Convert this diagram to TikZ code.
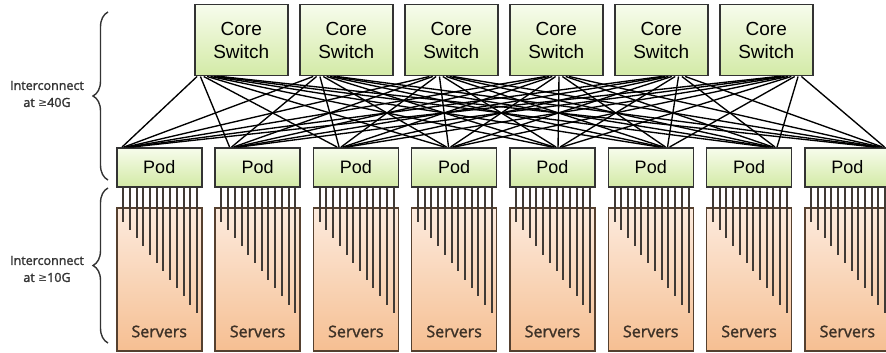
\documentclass[tikz,border=0pt]{standalone}
\usepackage{fontspec}
\setmainfont{Liberation Sans}
\newfontfamily\hum{Open Sans}
\newfontfamily\humsb[FakeBold=1.6]{Open Sans}
\newfontfamily\djv{DejaVu Sans}
\usetikzlibrary{calc,decorations.pathreplacing}
\definecolor{gtop}{HTML}{F7FCEC}
\definecolor{gbot}{HTML}{D3EAA6}
\definecolor{otop}{HTML}{FCEBDE}
\definecolor{obot}{HTML}{F6BF92}
\definecolor{edge}{HTML}{333333}
\definecolor{sedge}{HTML}{55402F}
\definecolor{wire}{HTML}{403A35}
\definecolor{stext}{HTML}{3E3227}
\begin{document}
\begin{tikzpicture}[x=1pt,y=-1pt,
 corebox/.style={draw=edge, line width=1.5pt, top color=gtop, bottom color=gbot,
   minimum width=93pt, minimum height=71pt, anchor=north west, inner sep=0pt,
   align=center, font=\fontsize{19}{23}\selectfont},
 podbox/.style={draw=edge, line width=1.5pt, top color=gtop, bottom color=gbot,
   minimum width=85pt, minimum height=39pt, anchor=north west, inner sep=0pt,
   font=\fontsize{18}{20}\selectfont},
 srvbox/.style={draw=sedge, line width=1.5pt, top color=otop, bottom color=obot,
   minimum width=85pt, minimum height=143pt, anchor=north west, inner sep=0pt},
 srvlabel/.style={font=\humsb\fontsize{16}{18}\selectfont, text=stext},
 link/.style={line width=1.35pt, black},
 drop/.style={line width=2pt, wire},
 bracket/.style={decorate, decoration={brace, amplitude=15pt}, line width=1.4pt, edge},
 note/.style={font=\humsb\fontsize{12.5}{17}\selectfont, text=edge, align=center}]
\useasboundingbox (0,0) rectangle (886,353);

% core switches
\foreach \c in {0,...,5}{
  \pgfmathsetmacro\cx{194+105*\c}
  \node[corebox] (c\c) at (\cx,4) {Core\\Switch};
}
% pods and servers
\foreach \p in {0,...,7}{
  \pgfmathsetmacro\px{116+98.3*\p}
  \node[podbox] (p\p) at (\px,147) {Pod};
  \node[srvbox] (s\p) at (\px,207) {};
  \node[srvlabel] (l\p) at ($(s\p.south)+(0,-20)$) {Servers};
}
% core-pod links
\foreach \c in {0,...,5}{
  \foreach \p in {0,...,7}{
    \pgfmathsetmacro\fa{(3+11*\c+3.3*\p)/93}
    \pgfmathsetmacro\fb{(6+9*\p+2*\c)/85}
    \draw[link] ($(c\c.south west)!\fa!(c\c.south east)$) -- ($(p\p.north west)!\fb!(p\p.north east)$);
  }
}
% pod-server drops
\foreach \p in {0,...,7}{
  \foreach \i in {0,...,11}{
    \pgfmathsetmacro\fd{(7+6.6*\i)/85}
    \pgfmathsetmacro\ld{34+8.3*\i}
    \draw[drop] ($(p\p.south west)!\fd!(p\p.south east)$) -- ++(0,\ld);
  }
}
% brackets and notes
\coordinate (b1a) at (108,180);
\coordinate (b1b) at (108,12);
\coordinate (b2a) at (108,343);
\coordinate (b2b) at (108,188);
\draw[bracket] (b1a) -- (b1b);
\draw[bracket] (b2a) -- (b2b);
\node[note] (n1) at (47,94) {Interconnect\\at {\djv\fontsize{11}{17}\selectfont ≥}40G};
\node[note] (n2) at (47,269) {Interconnect\\at {\djv\fontsize{11}{17}\selectfont ≥}10G};
\end{tikzpicture}
\end{document}
